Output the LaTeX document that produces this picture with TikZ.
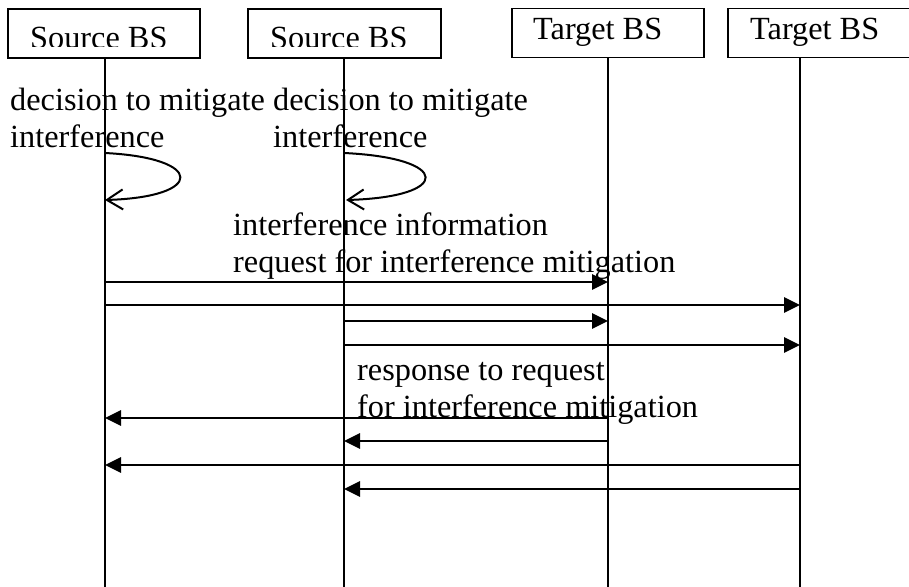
\documentclass[tikz,border=0pt]{standalone}
\usepackage{fontspec}
\setmainfont{Liberation Serif}
\usetikzlibrary{arrows.meta}
\begin{document}
\begin{tikzpicture}[x=1pt,y=-1pt,
  bs/.style={draw,line width=1.6pt,minimum height=49pt,inner sep=0pt},
  lbl/.style={anchor=base west,inner sep=0pt,font=\fontsize{32.3}{37}\selectfont},
  life/.style={line width=1.6pt},
  msg/.style={line width=2.8pt,-{Triangle[length=16pt,width=15pt]}},
  selfmsg/.style={line width=2pt,-{Straight Barb[length=16pt,width=20pt,line width=2pt]}}]
\useasboundingbox (0,0) rectangle (909,586);
% boxes
\node[bs,minimum width=192pt] (b1) at (104,33.5) {};
\node[bs,minimum width=193pt] (b2) at (344.5,33.5) {};
\node[bs,minimum width=192pt] (b3) at (608,33) {};
\node[bs,minimum width=190pt] (b4) at (823,33) {};
\begin{scope}
\clip (0,0) rectangle (909,46.3);
\node[lbl] (t1) at (30,48.8) {Source BS};
\node[lbl] (t2) at (270,48.8) {Source BS};
\end{scope}
\node[lbl] (t3) at (533,40) {Target BS};
\node[lbl] (t4) at (750,40) {Target BS};
% lifelines
\coordinate (L1) at (105,0);
\coordinate (L2) at (344,0);
\coordinate (L3) at (608,0);
\coordinate (L4) at (800,0);
\coordinate (bot) at (0,590);
\draw[life] (L1 |- b1.south) -- (L1 |- bot);
\draw[life] (L2 |- b2.south) -- (L2 |- bot);
\draw[life] (L3 |- b3.south) -- (L3 |- bot);
\draw[life] (L4 |- b4.south) -- (L4 |- bot);
% texts
\node[lbl] (d1a) at (10,110) {decision to mitigate};
\node[lbl] (d1b) at (10,147) {interference};
\node[lbl] (d2a) at (273,110) {decision to mitigate};
\node[lbl] (d2b) at (273,147) {interference};
\node[lbl] (r1) at (233,235) {interference information};
\node[lbl] (r2) at (233,272) {request for interference mitigation};
\node[lbl] (s1) at (357,380) {response to request};
\node[lbl] (s2) at (357,417) {for interference mitigation};
% self arrows
\coordinate (a1) at (105,153);
\coordinate (a1e) at (105,200);
\coordinate (a2) at (344,153);
\coordinate (a2e) at (346,200);
\draw[selfmsg] (a1) .. controls (205,158) and (205,197) .. (a1e);
\draw[selfmsg] (a2) .. controls (452,158) and (452,197) .. (a2e);
% messages
\coordinate (y1) at (0,282);
\coordinate (y2) at (0,305);
\coordinate (y3) at (0,321);
\coordinate (y4) at (0,345);
\coordinate (y5) at (0,418);
\coordinate (y6) at (0,441);
\coordinate (y7) at (0,465);
\coordinate (y8) at (0,489);
\draw[msg] (L1 |- y1) -- (L3 |- y1);
\draw[msg] (L1 |- y2) -- (L4 |- y2);
\draw[msg] (L2 |- y3) -- (L3 |- y3);
\draw[msg] (L2 |- y4) -- (L4 |- y4);
\draw[msg] (L3 |- y5) -- (L1 |- y5);
\draw[msg] (L3 |- y6) -- (L2 |- y6);
\draw[msg] (L4 |- y7) -- (L1 |- y7);
\draw[msg] (L4 |- y8) -- (L2 |- y8);
\end{tikzpicture}
\end{document}
